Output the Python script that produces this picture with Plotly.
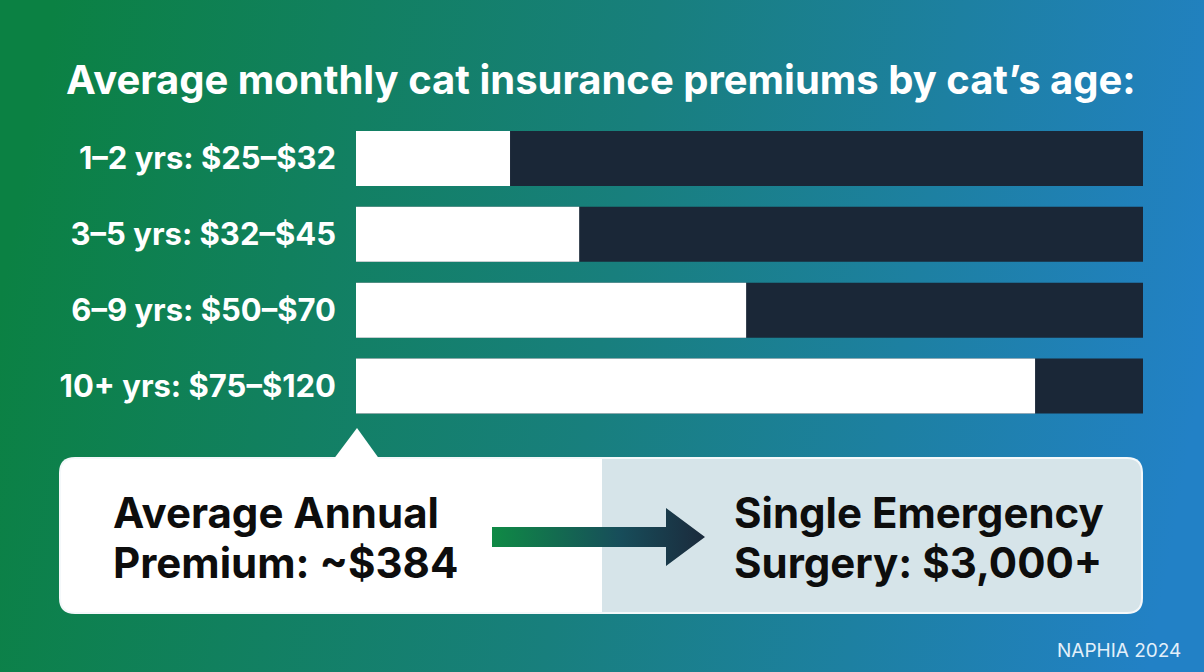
import base64
import plotly.graph_objects as go

# ---- data ----
categories = ["1–2 yrs: $25–$32", "3–5 yrs: $32–$45", "6–9 yrs: $50–$70", "10+ yrs: $75–$120"]
filled_values = [27.4, 39.7, 69.4, 120.8]   # white portion
scale_max = [140, 140, 140, 140]            # full track length
title_text = "Average monthly cat insurance premiums by cat’s age:"
left_box_lines = ["Average Annual", "Premium: ~$384"]
right_box_lines = ["Single Emergency", "Surgery: $3,000+"]
source_text = "NAPHIA 2024"

W, H = 1204, 672
FONT = "Inter"


def px(x):
    return x / W


def py(y):
    return 1 - y / H


# background gradient as svg image
bg_svg = f"""<svg xmlns='http://www.w3.org/2000/svg' width='{W}' height='{H}' viewBox='0 0 {W} {H}' preserveAspectRatio='none'>
<defs><linearGradient id='g' x1='0' y1='0.45' x2='1' y2='0.55'>
<stop offset='0' stop-color='#0b8143'/>
<stop offset='0.5' stop-color='#187f7d'/>
<stop offset='1' stop-color='#2281c6'/>
</linearGradient></defs>
<rect x='0' y='0' width='{W}' height='{H}' fill='url(#g)'/>
</svg>"""
bg_uri = "data:image/svg+xml;base64," + base64.b64encode(bg_svg.encode()).decode()

arrow_svg = """<svg xmlns='http://www.w3.org/2000/svg' width='213' height='58' viewBox='0 0 213 58' preserveAspectRatio='none'>
<defs><linearGradient id='a' x1='0' y1='0' x2='1' y2='0'>
<stop offset='0' stop-color='#0f8a45'/>
<stop offset='0.6' stop-color='#174d5a'/>
<stop offset='1' stop-color='#1b2a3c'/>
</linearGradient></defs>
<path d='M0 19 L174 19 L174 0 L213 29 L174 58 L174 39 L0 39 Z' fill='url(#a)'/>
</svg>"""
arrow_uri = "data:image/svg+xml;base64," + base64.b64encode(arrow_svg.encode()).decode()

fig = go.Figure()
fig.add_trace(go.Bar(
    y=categories, x=scale_max, orientation="h",
    marker=dict(color="#1a2737", line=dict(width=0)),
    hoverinfo="skip", showlegend=False,
))
fig.add_trace(go.Bar(
    y=categories, x=filled_values, orientation="h",
    marker=dict(color="#ffffff", line=dict(width=0)),
    hoverinfo="skip", showlegend=False,
))


def rounded_path(x0, y0, x1, y1, r, left=True, right=True):
    def P(x, y):
        return f"{px(x):.5f},{py(y):.5f}"
    s = ""
    if left:
        s += f"M {P(x0, y0 + r)} Q {P(x0, y0)} {P(x0 + r, y0)} "
    else:
        s += f"M {P(x0, y0)} "
    if right:
        s += f"L {P(x1 - r, y0)} Q {P(x1, y0)} {P(x1, y0 + r)} L {P(x1, y1 - r)} Q {P(x1, y1)} {P(x1 - r, y1)} "
    else:
        s += f"L {P(x1, y0)} L {P(x1, y1)} "
    if left:
        s += f"L {P(x0 + r, y1)} Q {P(x0, y1)} {P(x0, y1 - r)} Z"
    else:
        s += f"L {P(x0, y1)} Z"
    return s


shapes = [
    dict(type="path", xref="paper", yref="paper",
         path=rounded_path(59, 457, 1143, 614, 16), fillcolor="#f4f8fa",
         line=dict(width=0), layer="below"),
    dict(type="path", xref="paper", yref="paper",
         path=rounded_path(61, 459, 602, 612, 14, left=True, right=False),
         fillcolor="#ffffff", line=dict(width=0), layer="below"),
    dict(type="path", xref="paper", yref="paper",
         path=rounded_path(602, 459, 1141, 612, 14, left=False, right=True),
         fillcolor="#d6e4e9", line=dict(width=0), layer="below"),
    dict(type="path", xref="paper", yref="paper",
         path=f"M {px(333)},{py(460)} L {px(357)},{py(428)} L {px(380)},{py(460)} Z",
         fillcolor="#ffffff", line=dict(width=0), layer="below"),
]

images = [
    dict(source=bg_uri, xref="paper", yref="paper", x=0, y=1, sizex=1, sizey=1,
         xanchor="left", yanchor="top", sizing="stretch", layer="below"),
    dict(source=arrow_uri, xref="paper", yref="paper", x=px(492), y=py(508),
         sizex=px(705) - px(492), sizey=58 / H,
         xanchor="left", yanchor="top", sizing="stretch", layer="above"),
]

annotations = [
    dict(text=f"<b>{title_text}</b>", xref="paper", yref="paper", x=px(601), y=py(79),
         xanchor="center", yanchor="middle", showarrow=False,
         font=dict(family=FONT, size=40, color="#ffffff")),
    dict(text=source_text, xref="paper", yref="paper", x=px(1183), y=py(650),
         xanchor="right", yanchor="middle", showarrow=False,
         font=dict(family=FONT, size=19, color="#e3f0fa")),
]
for lines, x0 in ((left_box_lines, 111), (right_box_lines, 732)):
    for line, yc in zip(lines, (512, 562)):
        annotations.append(dict(
            text=f"<b>{line}</b>", xref="paper", yref="paper", x=px(x0), y=py(yc),
            xanchor="left", yanchor="middle", align="left", showarrow=False,
            font=dict(family=FONT, size=42, color="#0d0d0d")))

fig.update_layout(
    width=W, height=H,
    margin=dict(l=0, r=0, t=0, b=0),
    paper_bgcolor="#187f7d", plot_bgcolor="rgba(0,0,0,0)",
    barmode="overlay", bargap=0.276,
    shapes=shapes, images=images, annotations=annotations,
    xaxis=dict(domain=[px(356), px(1143)], range=[0, 140], visible=False, fixedrange=True),
    yaxis=dict(domain=[py(424), py(120.5)], range=[3.5, -0.5], showgrid=False,
               zeroline=False, showline=False, ticks="", ticklabelstandoff=19,
               tickfont=dict(family=FONT, size=31, color="#ffffff", weight="bold"),
               fixedrange=True),
    showlegend=False,
)

fig.write_html("out.html")
